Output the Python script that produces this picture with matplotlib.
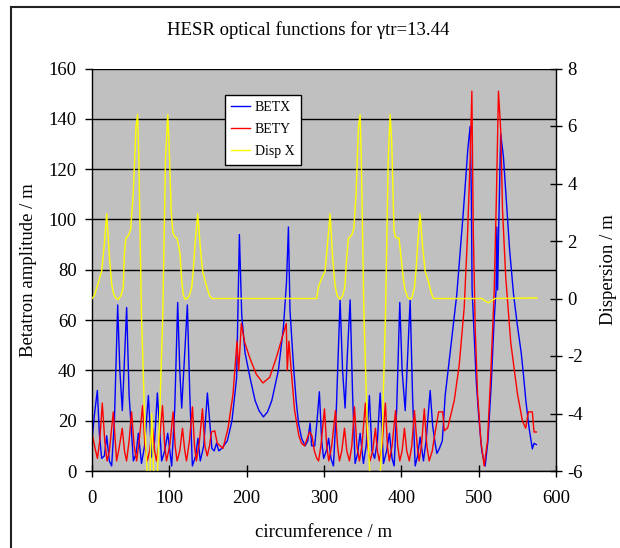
import matplotlib
matplotlib.use('Agg')
import matplotlib.pyplot as plt
from matplotlib.lines import Line2D

plt.rcParams['font.family'] = ['Liberation Serif', 'DejaVu Serif']
plt.rcParams['axes.unicode_minus'] = False

title = 'HESR optical functions for \u03b3tr=13.44'
x_label = 'circumference / m'
y_label = 'Betatron amplitude / m'
y2_label = 'Dispersion / m'
x_ticks = [0, 100, 200, 300, 400, 500, 600]
y_ticks = [0, 20, 40, 60, 80, 100, 120, 140, 160]
y2_ticks = [-6, -4, -2, 0, 2, 4, 6, 8]
series_names = ['BETX', 'BETY', 'Disp X']

# (s [m], beta_x [m])
betx_pts = [
    (0, 12), (3, 22), (6.9, 32), (9.5, 15), (12.5, 5), (16, 6), (19, 14), (22.4, 4), (25.4, 2), (29, 20),
    (33.2, 66), (36, 40), (39.2, 24), (42, 45), (44.8, 65), (48, 30), (53.5, 4), (57, 7), (59.9, 15), (64, 3),
    (68, 10), (72.9, 30), (77.2, 5.5), (81, 12), (84.5, 31), (90.1, 4), (94, 8), (97.9, 15), (103, 2), (107, 25),
    (110.8, 67), (113.5, 40), (116, 25), (119.5, 45), (123.3, 66), (126.5, 30), (129.8, 2), (134, 6), (137, 13), (140, 4),
    (144.5, 10), (149.2, 31), (155, 9), (158, 8), (161, 11), (164, 8), (168, 9), (175, 12), (181, 20), (187, 37),
    (190.6, 94), (193.6, 62), (197.9, 47), (204.4, 37), (210.9, 28), (216, 24), (221.6, 21.5), (227, 23.5), (232.5, 28), (241, 40),
    (247.5, 57), (251.5, 75), (254, 97), (256, 64), (260.5, 42), (264, 28), (267, 19), (271, 13), (275.6, 10), (279, 12),
    (282, 19), (284, 10), (288, 10), (291, 20), (294, 31.5), (297, 12), (299.5, 5), (303, 8), (306, 13), (309, 5),
    (312.2, 2), (316, 25), (320.8, 68), (324, 40), (327.3, 25), (330, 45), (333.8, 68), (337, 30), (340.2, 3), (343.5, 7),
    (346.7, 15), (351, 3), (354.5, 10), (358.7, 30), (362, 8), (365.5, 5), (369, 12), (372.6, 31), (376.9, 3), (381, 8),
    (384.6, 15), (388, 5), (390.7, 2), (394, 25), (398, 67), (401, 40), (405, 24), (408, 45), (411.4, 68), (414.5, 30),
    (417.9, 2), (421, 6), (424.3, 13.5), (428.6, 4), (432, 12), (437.3, 32), (440.5, 18), (443.7, 11), (446, 7), (449.3, 9),
    (453, 12), (456.7, 30), (463.1, 47), (471.8, 70.5), (480.4, 104), (486, 128), (489, 137), (490.5, 110), (491.5, 72), (494, 55),
    (497, 35), (500, 22), (504, 8), (508.4, 2), (512, 12), (516, 33), (520, 60), (522.5, 72), (523.5, 97), (524.5, 72),
    (526, 98), (528.5, 134), (532, 125), (536.4, 105), (540, 88), (545, 70.5), (550, 58), (555, 47), (558, 38), (561, 28),
    (565, 17.5), (569.4, 8.8), (571.5, 11), (574.5, 10.5),
]

# (s [m], beta_y [m])
bety_pts = [
    (0, 15), (4, 9), (7, 5), (10, 12), (13.3, 27), (16.5, 12), (19.4, 4), (22.5, 8), (27.5, 23.5), (31.8, 4),
    (35, 9), (39.1, 17), (42, 8), (44.7, 4), (48, 12), (51.2, 23.5), (54.5, 10), (57.7, 4), (61, 12), (65.4, 26),
    (68.5, 10), (71.4, 4), (74.5, 8), (78.3, 17), (81, 8), (83.5, 4), (87, 12), (91.2, 26), (94, 10), (96.3, 4),
    (100.5, 10), (104.9, 23.5), (107.5, 10), (110, 4), (113.5, 8), (117, 17), (120, 8), (122.2, 4), (126, 12), (129.9, 25.5),
    (132.5, 10), (135, 4), (139, 12), (142.8, 24.7), (146, 10), (149, 6), (152, 10), (154.4, 15.5), (158.7, 16), (162, 11),
    (169.4, 9), (175.9, 17), (182.3, 30.4), (187.5, 51.6), (189.7, 40), (193.1, 58.6), (197.5, 51), (204, 45), (212.5, 38.4), (221, 35),
    (229.7, 37.2), (238.3, 45), (246.9, 54), (251.2, 58.6), (252.5, 40), (254.6, 51.6), (257.6, 40), (262, 24), (267.5, 14), (271, 11),
    (275, 10), (281.3, 15.6), (284.5, 14), (287.5, 8), (290.7, 5), (293, 4), (296, 10), (300.6, 24.7), (303.5, 10), (306.2, 4),
    (310, 10), (314.8, 24), (317.5, 10), (320, 4), (323, 8), (326.5, 17), (329.5, 8), (332.9, 4), (336, 10), (339.4, 25.5),
    (342.5, 10), (345.8, 4), (349, 10), (353.5, 27), (356.5, 10), (359.5, 4), (363, 8), (366.5, 17), (369, 8), (371.6, 4),
    (375, 10), (379.4, 27), (382, 10), (384.5, 4), (388, 10), (392.5, 24), (395.3, 10), (398, 4), (401, 8), (404, 17),
    (407, 8), (410.3, 4), (413.5, 10), (417, 24), (420.5, 10), (423, 4), (426, 10), (429.7, 24.7), (433, 10), (436, 4),
    (440, 8), (444, 16), (448.2, 23.5), (453.5, 23.5), (455.6, 16), (460, 17.2), (468.4, 28), (474.8, 42), (481.3, 65), (485.6, 94),
    (489, 124), (491.2, 151), (493, 96), (495.5, 57), (498.5, 31), (502.8, 12), (507.1, 2), (511.4, 12), (515.7, 39), (520, 70.5),
    (523, 110), (525.6, 151), (528.6, 135), (530.8, 104), (535, 77), (541.5, 51), (550, 31), (556.5, 20), (560.8, 17), (564.3, 23.5),
    (569.4, 23.5), (571.6, 15.5), (574.6, 15.5),
]

# (s [m], D_x [m])
disp_pts = [
    (0, 0), (3, 0.1), (7, 0.45), (12.5, 0.95), (16, 1.9), (19, 2.95), (22.4, 1.5), (25.4, 0.5), (28, 0.15), (31, 0),
    (34, -0.03), (37.5, 0.1), (40.5, 0.4), (41.7, 1.5), (43.8, 2.1), (46, 2.15), (48, 2.25), (50, 2.4), (53.3, 3.65), (56.9, 5.97),
    (59, 6.4), (60.6, 4.8), (64, -0.64), (68.4, -4.47), (71.5, -6.2), (74, -7.2), (76, -5), (77.2, -4), (78.4, -5), (81, -7.2),
    (84.3, -6.2), (87, -4.5), (91.5, -0.6), (95, 4.8), (97.9, 6.4), (99.5, 5.5), (102.5, 3.0), (104.5, 2.3), (107, 2.15), (110, 2.1),
    (111.5, 1.9), (113.8, 1.57), (116, 0.6), (118, 0.15), (120.2, -0.03), (123, 0), (126, 0.1), (129, 0.4), (131, 1.0), (133.5, 2.0),
    (136.7, 2.95), (140, 1.8), (143.2, 0.92), (148.4, 0.4), (152, 0.1), (154.9, 0), (290.6, 0), (292.8, 0.4), (297, 0.7), (301.4, 0.95),
    (304.5, 1.9), (307.9, 2.95), (311, 1.5), (314, 0.5), (317, 0.1), (320.8, -0.03), (324, 0.1), (327, 0.4), (329, 1.3), (331.5, 2.1),
    (334, 2.15), (336.5, 2.25), (338.5, 2.4), (341.5, 3.65), (344.5, 5.97), (346.7, 6.4), (348.3, 4.8), (351.7, -0.64), (356, -4.47), (359.6, -6.2),
    (362, -7.2), (366, -7.5), (369.5, -7.2), (372.6, -6.2), (375.5, -4.5), (379.5, -0.6), (383, 4.8), (385.5, 6.4), (387.5, 5.5), (390.5, 2.4),
    (392, 2.15), (395, 2.1), (397, 2.1), (399, 1.6), (403, 0.6), (405, 0.29), (408, 0.05), (411.4, -0.03), (414, 0.05), (417, 0.4),
    (419, 1.0), (421.5, 2.0), (424.3, 2.95), (427.5, 1.8), (430.8, 0.95), (435, 0.6), (438.5, 0.2), (441.6, 0), (504, 0), (508, -0.08),
    (512.7, -0.15), (517, -0.07), (521.3, 0), (575.3, 0.02),
]

W, H = 620, 548
fig = plt.figure(figsize=(W / 100, H / 100), dpi=100)
fig.patch.set_facecolor('white')

# outer chart frame (left and top edges visible)
fig.add_artist(Line2D([11 / W, 11 / W], [0, 1 - 7 / H], transform=fig.transFigure, color='#222222', lw=1.5))
fig.add_artist(Line2D([11 / W, 1.02], [1 - 7 / H, 1 - 7 / H], transform=fig.transFigure, color='#222222', lw=1.5))

ax = fig.add_axes([92 / W, 1 - 471 / H, 464 / W, 402.5 / H])
ax.set_facecolor('#c0c0c0')

bx = [p[0] for p in betx_pts]
by = [p[1] for p in betx_pts]
rx = [p[0] for p in bety_pts]
ry = [p[1] for p in bety_pts]
dx = [p[0] for p in disp_pts]
dy = [p[1] for p in disp_pts]

l1, = ax.plot(bx, by, color='#0000ff', lw=1.0, label=series_names[0])
l2, = ax.plot(rx, ry, color='#ff0000', lw=1.0, label=series_names[1])
ax.set_xlim(0, 600)
ax.set_ylim(0, 160)
ax.set_xticks(x_ticks)
ax.set_yticks(y_ticks)
ax.yaxis.grid(True, color='black', lw=1.0)
ax.set_axisbelow(True)
for side in ['top', 'right']:
    ax.spines[side].set_visible(False)
ax.spines['left'].set_linewidth(1.0)
ax.spines['bottom'].set_linewidth(1.0)
ax.tick_params(axis='y', direction='out', length=5, width=1, labelsize=13.5, pad=6)
ax.tick_params(axis='x', direction='inout', length=8, width=1, labelsize=13.5, pad=10)
ax.set_xlabel(x_label, fontsize=13.5, labelpad=12)
ax.set_ylabel(y_label, fontsize=13.5, labelpad=8)

ax2 = ax.twinx()
l3, = ax2.plot(dx, dy, color='#ffff00', lw=1.0, label=series_names[2])
ax2.set_ylim(-6, 8)
ax2.set_yticks(y2_ticks)
ax2.spines['top'].set_visible(False)
ax2.spines['left'].set_visible(False)
ax2.spines['bottom'].set_visible(False)
ax2.spines['right'].set_linewidth(1.0)
ax2.tick_params(axis='y', direction='inout', length=8.5, width=1, labelsize=13.5, pad=4)
ax2.set_ylabel(y2_label, fontsize=13.5, labelpad=12)

leg = ax2.legend(handles=[l1, l2, l3], loc='upper left', bbox_to_anchor=((225 - 92) / 464, 1 - (95 - 68.5) / 402.5),
                 borderaxespad=0, fontsize=10, frameon=True, fancybox=False, shadow=False,
                 handlelength=1.35, handletextpad=0.35, labelspacing=0.65, borderpad=0.45)
leg.get_frame().set_edgecolor('black')
leg.get_frame().set_linewidth(1.0)
leg.get_frame().set_facecolor('white')
leg.get_frame().set_alpha(1)

fig.text(308 / W, 1 - 30 / H, title, ha='center', va='center', fontsize=13.5)

fig.savefig('out.png', dpi=100)
